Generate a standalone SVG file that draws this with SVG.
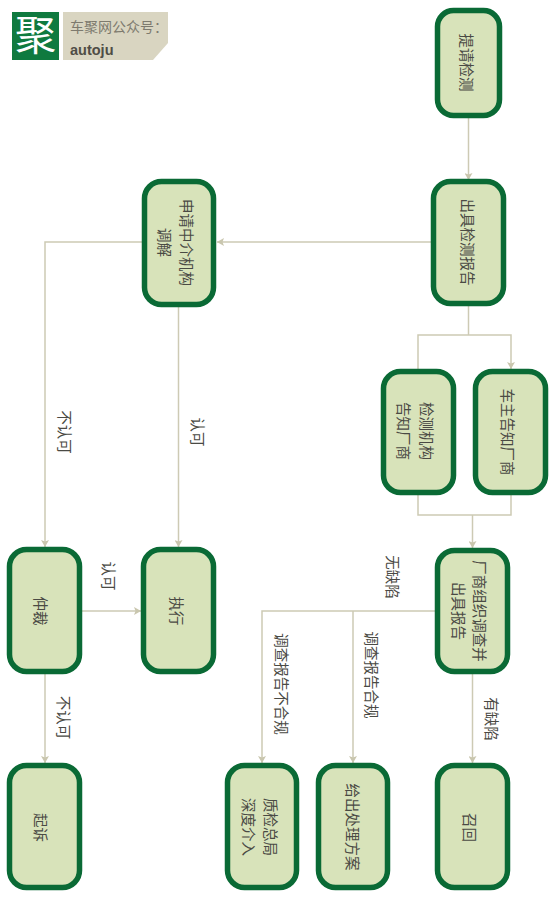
<svg xmlns="http://www.w3.org/2000/svg" width="554" height="900" viewBox="0 0 554 900">
<style>
text{font-family:"Noto Sans CJK SC","Liberation Sans",sans-serif}
.box{fill:#d8e3ba;stroke:#0a6a35;stroke-width:5.5}
.t{font-size:14.5px;fill:#4a4a44;text-anchor:middle;dominant-baseline:central}
.c{fill:none;stroke:#cdcab4;stroke-width:1.5}
.a{marker-end:url(#arr)}
</style>
<defs>
<marker id="arr" markerUnits="userSpaceOnUse" markerWidth="8" markerHeight="8" refX="7" refY="4" orient="auto"><path d="M0 0L7 4L0 8L1.500 4Z" fill="#c9c6ae"/></marker>
</defs>
<rect width="554" height="900" fill="#fff"/>
<g id="logo">
<rect x="12" y="12" width="47" height="48" fill="#0f7a3f"/>
<text x="35.500" y="50" font-size="41" fill="#fff" text-anchor="middle">聚</text>
<path d="M63 12H168V43L153 60H63Z" fill="#d9d5c1"/>
<text x="70" y="32" font-size="14" fill="#7d7a6e">车聚网公众号：</text>
<text x="70" y="55" font-size="14.500" font-weight="700" fill="#4f4d45" style="font-family:'Liberation Sans',sans-serif">autoju</text>
</g>
<g id="connectors">
<path class="c a" d="M468.500 118V180"/>
<path class="c a" d="M431 242H217"/>
<path class="c a" d="M142 242H45V547"/>
<path class="c a" d="M178.500 306V547"/>
<path class="c" d="M468.500 306V335"/>
<path class="c a" d="M418 369V335H511V369"/>
<path class="c" d="M418 495V515H511V495"/>
<path class="c a" d="M472.500 515V548"/>
<path class="c a" d="M435 611H262V763"/>
<path class="c a" d="M353 611V763"/>
<path class="c a" d="M472.500 674V763"/>
<path class="c a" d="M82 611H141"/>
<path class="c a" d="M45 674V763"/>
</g>
<g id="labels">
<text class="t" transform="translate(65 432) rotate(90)">不认可</text>
<text class="t" transform="translate(198 432) rotate(90)">认可</text>
<text class="t" transform="translate(109 576) rotate(90)">认可</text>
<text class="t" transform="translate(64 717.500) rotate(90)">不认可</text>
<text class="t" transform="translate(393 577) rotate(90)">无缺陷</text>
<text class="t" transform="translate(282 684) rotate(90)">调查报告不合规</text>
<text class="t" transform="translate(372 675) rotate(90)">调查报告合规</text>
<text class="t" transform="translate(492 719) rotate(90)">有缺陷</text>
</g>
<g id="n1"><rect class="box" x="437.500" y="10.500" width="62" height="105" rx="16"/><text class="t" transform="translate(467 62.500) rotate(90)">提请检测</text></g>
<g id="n2"><rect class="box" x="433.500" y="181.500" width="70" height="122" rx="17"/><text class="t" transform="translate(468.500 242) rotate(90)">出具检测报告</text></g>
<g id="n3"><rect class="box" x="144.500" y="181.500" width="69" height="123" rx="17"/><text class="t" transform="translate(187 242.500) rotate(90)">申请中介机构</text><text class="t" transform="translate(165 242.500) rotate(90)">调解</text></g>
<g id="n4"><rect class="box" x="383.500" y="371.500" width="70" height="121" rx="17"/><text class="t" transform="translate(427 431) rotate(90)">检测机构</text><text class="t" transform="translate(404 431) rotate(90)">告知厂商</text></g>
<g id="n5"><rect class="box" x="475.500" y="371.500" width="70" height="121" rx="17"/><text class="t" transform="translate(508 432) rotate(90)">车主告知厂商</text></g>
<g id="n6"><rect class="box" x="437.500" y="550.500" width="70" height="121" rx="17"/><text class="t" transform="translate(480 611) rotate(90)">厂商组织调查并</text><text class="t" transform="translate(459 611) rotate(90)">出具报告</text></g>
<g id="n7"><rect class="box" x="9.500" y="549.500" width="70" height="122" rx="17"/><text class="t" transform="translate(41 611) rotate(90)">仲裁</text></g>
<g id="n8"><rect class="box" x="143.500" y="549.500" width="70" height="122" rx="17"/><text class="t" transform="translate(177 611) rotate(90)">执行</text></g>
<g id="n9"><rect class="box" x="9.500" y="765.500" width="70" height="122" rx="17"/><text class="t" transform="translate(41.500 827.500) rotate(90)">起诉</text></g>
<g id="n10"><rect class="box" x="227.500" y="765.500" width="69" height="122" rx="17"/><text class="t" transform="translate(271 827) rotate(90)">质检总局</text><text class="t" transform="translate(249 827) rotate(90)">深度介入</text></g>
<g id="n11"><rect class="box" x="318.500" y="765.500" width="69" height="122" rx="17"/><text class="t" transform="translate(353 827) rotate(90)">给出处理方案</text></g>
<g id="n12"><rect class="box" x="437.500" y="765.500" width="70" height="122" rx="17"/><text class="t" transform="translate(470 827.500) rotate(90)">召回</text></g>
</svg>
